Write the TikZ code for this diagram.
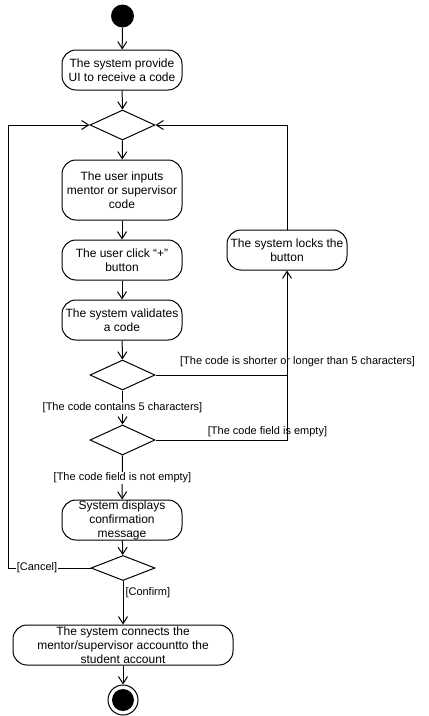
\documentclass[tikz,border=0pt]{standalone}
\usepackage{fontspec}
\setmainfont{Liberation Sans}
\usetikzlibrary{arrows.meta,shapes.geometric}
\begin{document}
\begin{tikzpicture}[x=1pt,y=-1pt,line width=1pt,
  act/.style={draw,rounded corners=14pt,minimum width=120pt,minimum height=40pt,align=center,font=\fontsize{12}{14}\selectfont,inner sep=0pt},
  dec/.style={draw,diamond,minimum width=65pt,minimum height=30pt,inner sep=0pt},
  lab/.style={font=\fontsize{11}{13}\selectfont,inner sep=1pt},
  arr/.style={-{Straight Barb[length=7pt,width=9pt]}}]
\useasboundingbox (0,0) rectangle (429,716);
\node[circle,fill,minimum size=23pt,inner sep=0pt] (start) at (122.5,16) {};
\node[act] (a1) at (122,70) {The system provide\\UI to receive a code};
\node[dec] (d1) at (122.5,125) {};
\node[act,minimum height=60pt] (a2) at (122,190) {The user inputs\\mentor or supervisor\\code};
\node[act] (a3) at (122,260) {The user click “+”\\button};
\node[act] (a4) at (122,320) {The system validates\\a code};
\node[dec] (d2) at (122.5,375) {};
\node[act] (lock) at (287,250) {The system locks the\\button};
\node[dec] (d3) at (122.5,440) {};
\node[act,inner ysep=-2pt] (a5) at (122,520) {System displays\\confirmation\\message};
\node[dec,minimum width=64pt,minimum height=25pt] (d4) at (123,568) {};
\node[act,minimum width=220pt,inner ysep=-2pt] (a6) at (123,645) {The system connects the\\mentor/supervisor accountto the\\student account};
\node[circle,draw,minimum size=30pt,inner sep=0pt] (end) at (123,700) {};
\node[circle,fill,minimum size=22pt,inner sep=0pt] (endin) at (123,700) {};
\coordinate (j) at (287,375);
\coordinate (cl) at (8,568);
\draw[arr] (start) -- (a1);
\draw[arr] (a1) -- (d1);
\draw[arr] (d1) -- (a2);
\draw[arr] (a2) -- (a3);
\draw[arr] (a3) -- (a4);
\draw[arr] (a4) -- (d2);
\draw[arr] (d2) -- (d3);
\draw[arr] (d3) -- (a5);
\draw[arr] (a5) -- (d4);
\draw[arr] (d4.south) -- (a6.north);
\draw[arr] (a6) -- (end);
\draw (d2.east) -- (j);
\draw[arr] (j) -- (lock.south);
\draw (d3.east) -| (j);
\draw[arr] (lock.north) |- (d1.east);
\draw[arr] (d4.west) -- (cl) |- (d1.west);
\node[lab] (l1) at (297.5,362) {[The code is shorter or longer than 5 characters]};
\node[lab,fill=white] (l2) at (122.5,408) {[The code contains 5 characters]};
\node[lab] (l3) at (267.5,432) {[The code field is empty]};
\node[lab,fill=white] (l4) at (122.5,478) {[The code field is not empty]};
\node[lab,fill=white] (l5) at (37,568) {[Cancel]};
\node[lab,anchor=west] (l6) at (124,593) {[Confirm]};
\end{tikzpicture}
\end{document}
